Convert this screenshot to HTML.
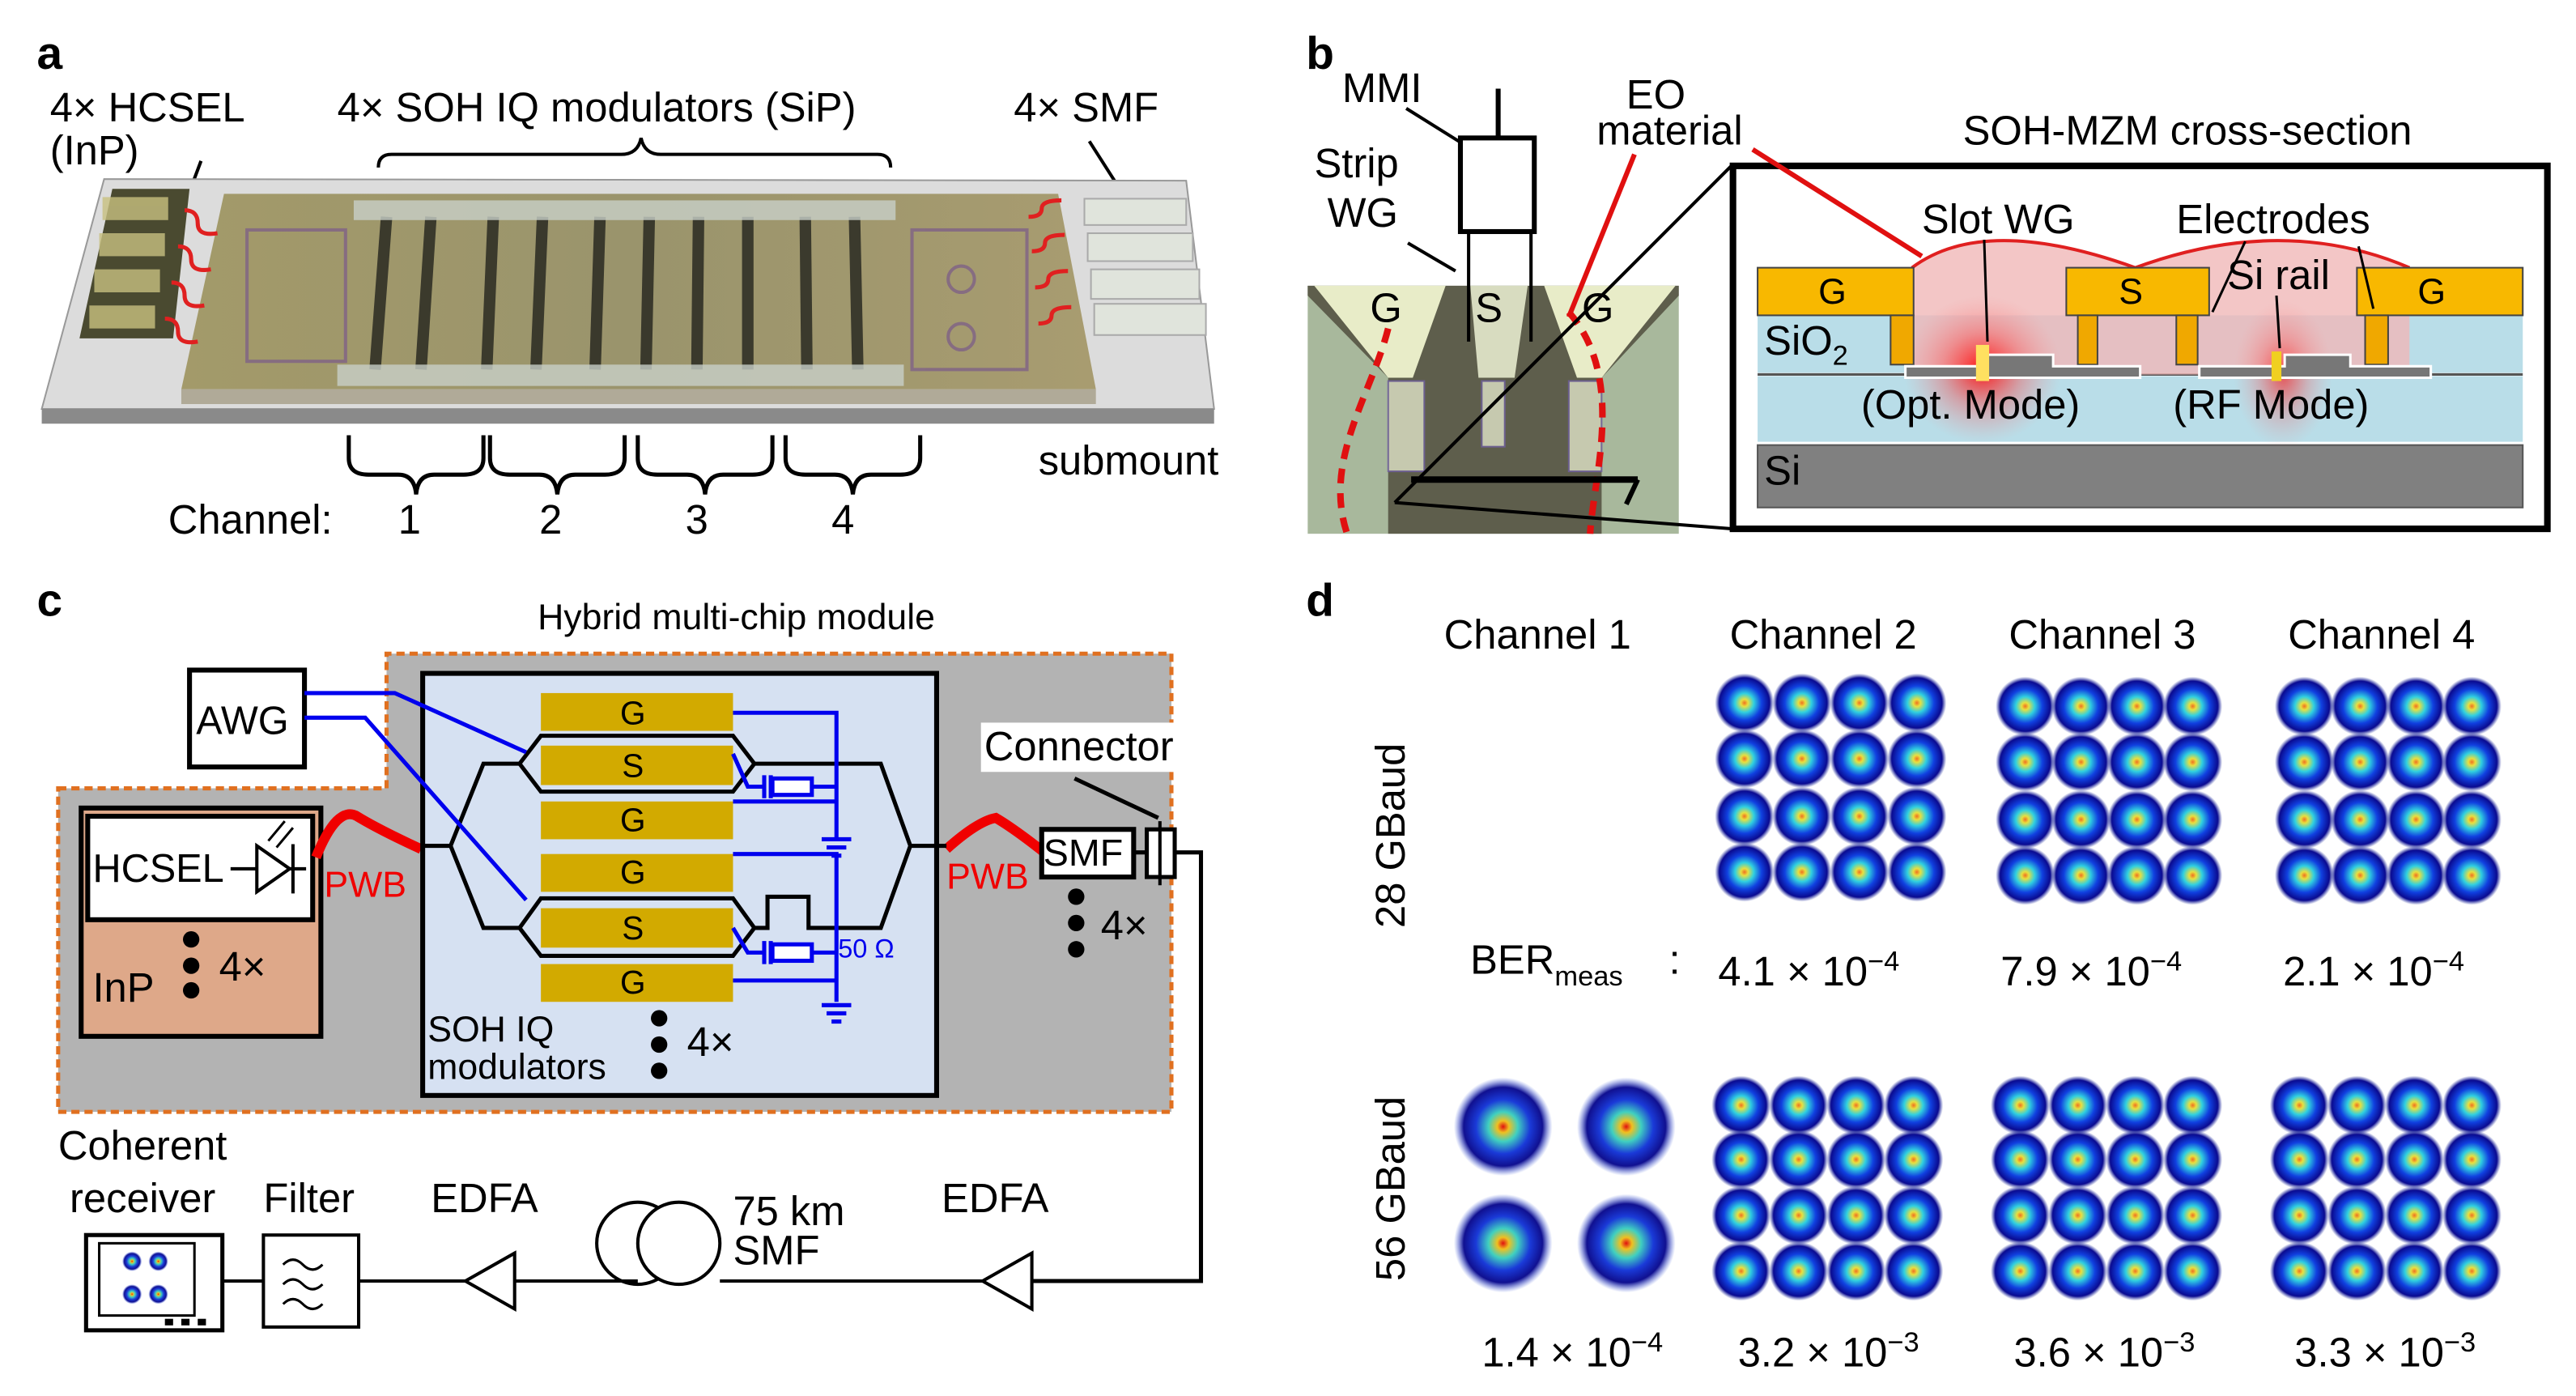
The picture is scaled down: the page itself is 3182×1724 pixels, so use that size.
<!DOCTYPE html>
<html><head><meta charset="utf-8"><style>
html,body{margin:0;padding:0;background:#fff;}
svg{display:block;}
text{font-family:"Liberation Sans",sans-serif;}
</style></head><body>
<svg width="3182" height="1724" viewBox="0 0 1568 850" xmlns="http://www.w3.org/2000/svg">
<defs>
<radialGradient id="blob" cx="50%" cy="50%" r="50%">
<stop offset="0" stop-color="#f07020"/>
<stop offset="0.12" stop-color="#e8e040"/>
<stop offset="0.32" stop-color="#30d0e0"/>
<stop offset="0.58" stop-color="#1040e0"/>
<stop offset="0.85" stop-color="#0a0a90"/>
<stop offset="1" stop-color="#2030a0" stop-opacity="0"/>
</radialGradient>
<radialGradient id="blob2" cx="50%" cy="50%" r="50%">
<stop offset="0" stop-color="#e01010"/>
<stop offset="0.12" stop-color="#f0c020"/>
<stop offset="0.3" stop-color="#40d0c0"/>
<stop offset="0.55" stop-color="#1a3ad8"/>
<stop offset="0.8" stop-color="#101090"/>
<stop offset="1" stop-color="#4060e0" stop-opacity="0"/>
</radialGradient>
<radialGradient id="glow" cx="50%" cy="50%" r="50%">
<stop offset="0" stop-color="#ff0000" stop-opacity="0.9"/>
<stop offset="0.5" stop-color="#ff3030" stop-opacity="0.35"/>
<stop offset="1" stop-color="#ff8080" stop-opacity="0"/>
</radialGradient>
<linearGradient id="chip" x1="0" y1="0" x2="1" y2="0">
<stop offset="0" stop-color="#a39a6a"/><stop offset="0.5" stop-color="#9a946c"/><stop offset="1" stop-color="#a89c70"/>
</linearGradient>
<circle id="b" r="18" fill="url(#blob)"/>
<circle id="c" r="30" fill="url(#blob2)"/>
</defs>

<!-- ===== Panel a ===== -->
<text x="22" y="42" font-size="28" font-weight="bold">a</text>
<text x="30" y="74" font-size="25">4× HCSEL</text>
<text x="30" y="100" font-size="25">(InP)</text>
<text x="205" y="74" font-size="25">4× SOH  IQ modulators (SiP)</text>
<text x="617" y="74" font-size="25">4× SMF</text>
<path d="M230 102 q0 -8 8 -8 h140 q10 0 12 -10 q2 10 12 10 h132 q8 0 8 8" fill="none" stroke="#000" stroke-width="2"/>
<line x1="122" y1="98" x2="110" y2="130" stroke="#000" stroke-width="2"/>
<line x1="663" y1="86" x2="686" y2="122" stroke="#000" stroke-width="2"/>
<polygon points="63,109 722,110 739,249 25,249" fill="#dcdcdc" stroke="#999"/>
<polygon points="25,249 739,249 739,258 25,258" fill="#8a8a8a"/>
<polygon points="136,118 644,118 667,237 110,237" fill="url(#chip)"/>
<polygon points="110,237 667,237 667,246 110,246" fill="#b0aa98"/>
<g stroke="#2a2a22" stroke-width="7" opacity="0.85">
<line x1="235" y1="132" x2="228" y2="225"/><line x1="262" y1="132" x2="256" y2="225"/>
<line x1="300" y1="132" x2="296" y2="225"/><line x1="330" y1="132" x2="326" y2="225"/>
<line x1="365" y1="132" x2="362" y2="225"/><line x1="395" y1="132" x2="393" y2="225"/>
<line x1="425" y1="132" x2="424" y2="225"/><line x1="455" y1="132" x2="455" y2="225"/>
<line x1="490" y1="132" x2="491" y2="225"/><line x1="520" y1="132" x2="522" y2="225"/>
</g>
<rect x="215" y="122" width="330" height="12" fill="#c8d0c8" opacity="0.8"/>
<rect x="205" y="222" width="345" height="13" fill="#c8d0c8" opacity="0.8"/>
<g fill="none" stroke="#7a5a8a" stroke-width="2" opacity="0.7">
<rect x="150" y="140" width="60" height="80"/><rect x="555" y="140" width="70" height="85"/>
<circle cx="585" cy="170" r="8"/><circle cx="585" cy="205" r="8"/>
</g>
<polygon points="68,115 115,115 105,206 48,206" fill="#4a4a30"/>
<g fill="#c8c080" opacity="0.8"><rect x="62" y="120" width="40" height="14"/><rect x="60" y="142" width="40" height="14"/><rect x="57" y="164" width="40" height="14"/><rect x="54" y="186" width="40" height="14"/></g>
<g fill="#e0e4dc" stroke="#aaa"><rect x="660" y="121" width="62" height="16"/><rect x="662" y="142" width="64" height="17"/><rect x="664" y="164" width="66" height="18"/><rect x="666" y="185" width="68" height="19"/></g>
<g fill="none" stroke="#e02020" stroke-width="2.5">
<path d="M112 128 q8 0 8 8 t12 6"/><path d="M108 150 q8 0 8 8 t12 6"/><path d="M104 172 q8 0 8 8 t12 6"/><path d="M100 194 q8 0 8 8 t12 6"/>
<path d="M626 132 q8 0 8 -5 t12 -5"/><path d="M628 153 q8 0 8 -5 t12 -5"/><path d="M630 175 q8 0 8 -5 t12 -5"/><path d="M632 197 q8 0 8 -5 t12 -5"/>
</g>
<g fill="none" stroke="#000" stroke-width="2.5">
<path d="M212 265 v14 q0 10 12 10 h18 q10 0 11 12 q1 -12 11 -12 h18 q12 0 12 -10 v-14"/>
<path d="M298 265 v14 q0 10 12 10 h18 q10 0 11 12 q1 -12 11 -12 h18 q12 0 12 -10 v-14"/>
<path d="M388 265 v14 q0 10 12 10 h18 q10 0 11 12 q1 -12 11 -12 h18 q12 0 12 -10 v-14"/>
<path d="M478 265 v14 q0 10 12 10 h18 q10 0 11 12 q1 -12 11 -12 h18 q12 0 12 -10 v-14"/>
</g>
<text x="102" y="325" font-size="25">Channel:</text>
<text x="242" y="325" font-size="25">1</text><text x="328" y="325" font-size="25">2</text>
<text x="417" y="325" font-size="25">3</text><text x="506" y="325" font-size="25">4</text>
<text x="632" y="289" font-size="25">submount</text>

<!-- ===== Panel b ===== -->
<text x="795" y="42" font-size="28" font-weight="bold">b</text>
<text x="817" y="62" font-size="25">MMI</text>
<text x="800" y="108" font-size="25">Strip</text>
<text x="808" y="138" font-size="25">WG</text>
<text x="990" y="66" font-size="25">EO</text>
<text x="972" y="88" font-size="25">material</text>
<text x="1195" y="88" font-size="25">SOH-MZM cross-section</text>
<rect x="796" y="174" width="226" height="151" fill="#a8b89c"/>
<polygon points="796,174 1022,174 1022,180 975,230 975,325 845,325 845,230 796,180" fill="#5e5e4c"/>
<polygon points="800,174 880,174 860,230 845,230" fill="#e8ecc8"/>
<polygon points="1020,174 940,174 960,230 975,230" fill="#e8ecc8"/>
<polygon points="895,174 930,174 922,230 900,230" fill="#d8dcc0"/>
<g fill="#e0e4c8" stroke="#7060a0" stroke-width="1" opacity="0.8">
<rect x="845" y="232" width="22" height="55"/><rect x="955" y="232" width="20" height="55"/><rect x="902" y="232" width="14" height="40"/>
</g>
<path d="M845 200 C 835 240 805 280 820 325 M955 190 C 990 230 970 290 968 325" fill="none" stroke="#e01010" stroke-width="4" stroke-dasharray="9,6"/>
<text x="834" y="196" font-size="25">G</text><text x="898" y="196" font-size="25">S</text><text x="963" y="196" font-size="25">G</text>
<line x1="912" y1="54" x2="912" y2="84" stroke="#000" stroke-width="3"/>
<rect x="889" y="84" width="45" height="57" fill="none" stroke="#000" stroke-width="3"/>
<line x1="894" y1="141" x2="894" y2="208" stroke="#000" stroke-width="2"/>
<line x1="932" y1="141" x2="932" y2="208" stroke="#000" stroke-width="2"/>
<line x1="856" y1="66" x2="888" y2="86" stroke="#000" stroke-width="2"/>
<line x1="857" y1="148" x2="886" y2="165" stroke="#000" stroke-width="2"/>
<line x1="995" y1="94" x2="955" y2="193" stroke="#e01010" stroke-width="3"/>
<line x1="859" y1="292" x2="997" y2="292" stroke="#000" stroke-width="4"/>
<line x1="997" y1="292" x2="990" y2="307" stroke="#000" stroke-width="3"/>
<line x1="849" y1="306" x2="1055" y2="100" stroke="#000" stroke-width="2"/>
<line x1="849" y1="306" x2="1055" y2="322" stroke="#000" stroke-width="2"/>
<rect x="1055" y="101" width="496" height="221" fill="#fff" stroke="#000" stroke-width="4"/>
<rect x="1070" y="192" width="466" height="35" fill="#b9dde8"/>
<rect x="1070" y="229" width="466" height="40" fill="#b9dde8"/>
<line x1="1070" y1="228" x2="1536" y2="228" stroke="#555" stroke-width="1.5"/>
<rect x="1070" y="271" width="466" height="38" fill="#808080" stroke="#555"/>
<path d="M1164 163 Q1208 130 1300 163 Q1390 130 1467 163 L1467 228 L1164 228 Z" fill="#f0b8b8" opacity="0.8"/>
<path d="M1164 163 Q1208 130 1300 163 Q1390 130 1467 163" fill="none" stroke="#e02020" stroke-width="2"/>
<line x1="1067" y1="91" x2="1170" y2="156" stroke="#e01010" stroke-width="3"/>
<ellipse cx="1207" cy="225" rx="48" ry="45" fill="url(#glow)"/>
<ellipse cx="1390" cy="228" rx="30" ry="45" fill="url(#glow)" opacity="0.7"/>
<rect x="1070" y="163" width="95" height="29" fill="#f8b800" stroke="#444"/>
<rect x="1258" y="163" width="87" height="29" fill="#f8b800" stroke="#444"/>
<rect x="1435" y="163" width="101" height="29" fill="#f8b800" stroke="#444"/>
<g fill="#f0a800" stroke="#444"><rect x="1151" y="192" width="14" height="30"/><rect x="1265" y="192" width="12" height="30"/><rect x="1325" y="192" width="13" height="30"/><rect x="1440" y="192" width="14" height="30"/></g>
<path d="M1160 223 h50 v-7 h40 v7 h53 v7 h-143 z" fill="#777" stroke="#fff" stroke-width="1.5"/>
<path d="M1339 223 h52 v-7 h40 v7 h49 v7 h-141 z" fill="#777" stroke="#fff" stroke-width="1.5"/>
<rect x="1203" y="210" width="8" height="22" fill="#ffe060"/>
<rect x="1383" y="214" width="6" height="18" fill="#f0d020"/>
<text x="1107" y="185" font-size="22">G</text><text x="1290" y="185" font-size="22">S</text><text x="1472" y="185" font-size="22">G</text>
<text x="1074" y="216" font-size="25">SiO<tspan font-size="17" dy="6">2</tspan></text>
<text x="1074" y="295" font-size="25">Si</text>
<text x="1170" y="142" font-size="25">Slot WG</text>
<text x="1325" y="142" font-size="25">Electrodes</text>
<text x="1356" y="176" font-size="25">Si rail</text>
<text x="1133" y="255" font-size="25">(Opt. Mode)</text>
<text x="1323" y="255" font-size="25">(RF Mode)</text>
<g stroke="#000" stroke-width="1.5"><line x1="1208" y1="146" x2="1210" y2="208"/><line x1="1367" y1="147" x2="1347" y2="190"/><line x1="1436" y1="150" x2="1445" y2="188"/><line x1="1386" y1="180" x2="1388" y2="212"/></g>

<!-- ===== Panel c ===== -->
<text x="22" y="375" font-size="28" font-weight="bold">c</text>
<text x="327" y="383" font-size="22">Hybrid multi-chip module</text>
<path d="M35 480 H235 V398 H713 V677 H35 Z" fill="#b3b3b3" stroke="#e07020" stroke-width="2.5" stroke-dasharray="5,3"/>
<rect x="115" y="408" width="70" height="59" fill="#fff" stroke="#000" stroke-width="3"/>
<text x="119" y="447" font-size="24">AWG</text>
<rect x="49" y="492" width="146" height="139" fill="#dea889" stroke="#000" stroke-width="3"/>
<rect x="53" y="497" width="137" height="63" fill="#fff" stroke="#000" stroke-width="3"/>
<text x="56" y="537" font-size="24">HCSEL</text>
<line x1="140" y1="529" x2="186" y2="529" stroke="#000" stroke-width="2"/>
<polygon points="156,515 156,543 176,529" fill="#fff" stroke="#000" stroke-width="2"/>
<line x1="178" y1="514" x2="178" y2="544" stroke="#000" stroke-width="2"/>
<path d="M163 512 l10 -12 M168 516 l10 -12" stroke="#000" stroke-width="1.5"/>
<text x="56" y="610" font-size="25">InP</text>
<circle cx="116" cy="572" r="5"/><circle cx="116" cy="588" r="5"/><circle cx="116" cy="603" r="5"/>
<text x="133" y="597" font-size="25">4×</text>
<path d="M192 522 Q205 490 217 497 Q230 505 256 517" fill="none" stroke="#f00000" stroke-width="6"/>
<path d="M576 517 Q595 500 606 498 Q618 505 638 521" fill="none" stroke="#f00000" stroke-width="6"/>
<text x="197" y="546" font-size="22" fill="#f00000">PWB</text>
<text x="576" y="541" font-size="22" fill="#f00000">PWB</text>
<rect x="257" y="410" width="313" height="257" fill="#d6e1f2" stroke="#000" stroke-width="3"/>
<g fill="#d2aa00"><rect x="329" y="422" width="117" height="23"/><rect x="329" y="454" width="117" height="24"/><rect x="329" y="488" width="117" height="23"/><rect x="329" y="520" width="117" height="23"/><rect x="329" y="553" width="117" height="24"/><rect x="329" y="587" width="117" height="23"/></g>
<g font-size="20" text-anchor="middle"><text x="385" y="441">G</text><text x="385" y="473">S</text><text x="385" y="506">G</text><text x="385" y="538">G</text><text x="385" y="572">S</text><text x="385" y="605">G</text></g>
<g fill="none" stroke="#000" stroke-width="2.5">
<path d="M257 515 H274 L294 465 H316 M274 515 L294 565 H316"/>
<path d="M316 465 L329 448 H446 L459 465 L446 482 H329 Z"/>
<path d="M316 565 L329 547 H446 L459 565 L446 582 H329 Z"/>
<path d="M459 465 H536 L554 515 H576 M459 565 H467 V546 H492 V565 H536 L554 515"/>
</g>
<g fill="none" stroke="#0000ee" stroke-width="2.5">
<path d="M185 422 H240 L320 458"/><path d="M185 437 H222 L320 548"/>
<path d="M446 434 H509 V510 M446 488 H509 M446 520 H509 V610 M446 597 H509"/>
<path d="M446 459 L455 479 H465 M446 565 L455 580 H465"/>
<rect x="470" y="474" width="24" height="10" fill="#fff"/><rect x="470" y="575" width="24" height="10" fill="#fff"/>
<path d="M494 479 H509 M494 580 H509 M465 472 v14 M469 472 v14 M465 573 v14 M469 573 v14"/>
<path d="M500 511 h18 M503 516 h12 M506 521 h6 M500 612 h18 M503 617 h12 M506 622 h6"/>
</g>
<text x="510" y="583" font-size="16" fill="#0000ee">50 Ω</text>
<text x="260" y="634" font-size="22">SOH IQ</text>
<text x="260" y="657" font-size="22">modulators</text>
<circle cx="401" cy="620" r="5"/><circle cx="401" cy="636" r="5"/><circle cx="401" cy="652" r="5"/>
<text x="418" y="643" font-size="25">4×</text>
<rect x="597" y="440" width="122" height="30" fill="#fff"/>
<text x="599" y="463" font-size="25">Connector</text>
<line x1="654" y1="474" x2="705" y2="498" stroke="#000" stroke-width="2.5"/>
<rect x="634" y="505" width="56" height="29" fill="#fff" stroke="#000" stroke-width="3"/>
<text x="635" y="527" font-size="23">SMF</text>
<rect x="698" y="505" width="17" height="29" fill="#fff" stroke="#000" stroke-width="2.5"/>
<line x1="706" y1="500" x2="706" y2="539" stroke="#000" stroke-width="2"/>
<path d="M690 519 H698 M715 519 H731 V780 H628" fill="none" stroke="#000" stroke-width="2.5"/>
<circle cx="655" cy="546" r="5"/><circle cx="655" cy="562" r="5"/><circle cx="655" cy="578" r="5"/>
<text x="670" y="572" font-size="25">4×</text>
<polygon points="628,763 628,797 598,780" fill="#fff" stroke="#000" stroke-width="2"/>
<line x1="438" y1="780" x2="598" y2="780" stroke="#000" stroke-width="2"/>
<circle cx="388" cy="757" r="25" fill="#fff" stroke="#000" stroke-width="2"/>
<circle cx="413" cy="757" r="25" fill="#fff" stroke="#000" stroke-width="2"/>
<line x1="313" y1="780" x2="388" y2="780" stroke="#000" stroke-width="2"/>
<polygon points="313,763 313,797 283,780" fill="#fff" stroke="#000" stroke-width="2"/>
<line x1="218" y1="780" x2="283" y2="780" stroke="#000" stroke-width="2"/>
<rect x="160" y="752" width="58" height="56" fill="#fff" stroke="#000" stroke-width="2"/>
<path d="M172 770 q6 -6 12 0 t12 0 M172 782 q6 -6 12 0 t12 0 M172 794 q6 -6 12 0 t12 0" fill="none" stroke="#000" stroke-width="1.5"/>
<line x1="135" y1="780" x2="160" y2="780" stroke="#000" stroke-width="2"/>
<rect x="52" y="752" width="83" height="58" fill="#fff" stroke="#000" stroke-width="2.5"/>
<rect x="60" y="757" width="58" height="44" fill="#fff" stroke="#000" stroke-width="1.5"/>
<circle cx="80" cy="768" r="6" fill="url(#blob2)"/><circle cx="96" cy="768" r="6" fill="url(#blob2)"/><circle cx="80" cy="788" r="6" fill="url(#blob2)"/><circle cx="96" cy="788" r="6" fill="url(#blob2)"/>
<rect x="100" y="803" width="5" height="4"/><rect x="110" y="803" width="5" height="4"/><rect x="120" y="803" width="5" height="4"/>
<text x="35" y="706" font-size="25">Coherent</text>
<text x="42" y="738" font-size="25">receiver</text>
<text x="160" y="738" font-size="25">Filter</text>
<text x="262" y="738" font-size="25">EDFA</text>
<text x="446" y="746" font-size="25">75 km</text>
<text x="446" y="770" font-size="25">SMF</text>
<text x="573" y="738" font-size="25">EDFA</text>

<!-- ===== Panel d ===== -->
<text x="795" y="375" font-size="28" font-weight="bold">d</text>
<text x="879" y="395" font-size="25">Channel 1</text>
<text x="1053" y="395" font-size="25">Channel 2</text>
<text x="1223" y="395" font-size="25">Channel 3</text>
<text x="1393" y="395" font-size="25">Channel 4</text>
<text transform="translate(855,565) rotate(-90)" font-size="25">28 GBaud</text>
<text transform="translate(855,780) rotate(-90)" font-size="25">56 GBaud</text>
<text x="895" y="593" font-size="25">BER<tspan font-size="17" dy="7">meas</tspan></text>
<text x="1016" y="593" font-size="25">:</text>
<text x="1046" y="600" font-size="25">4.1 × 10<tspan font-size="17" dy="-9">−4</tspan></text>
<text x="1218" y="600" font-size="25">7.9 × 10<tspan font-size="17" dy="-9">−4</tspan></text>
<text x="1390" y="600" font-size="25">2.1 × 10<tspan font-size="17" dy="-9">−4</tspan></text>
<text x="902" y="832" font-size="25">1.4 × 10<tspan font-size="17" dy="-9">−4</tspan></text>
<text x="1058" y="832" font-size="25">3.2 × 10<tspan font-size="17" dy="-9">−3</tspan></text>
<text x="1226" y="832" font-size="25">3.6 × 10<tspan font-size="17" dy="-9">−3</tspan></text>
<text x="1397" y="832" font-size="25">3.3 × 10<tspan font-size="17" dy="-9">−3</tspan></text>
<g>
<use href="#b" x="1062" y="428"/><use href="#b" x="1097" y="428"/><use href="#b" x="1132" y="428"/><use href="#b" x="1167" y="428"/>
<use href="#b" x="1062" y="462"/><use href="#b" x="1097" y="462"/><use href="#b" x="1132" y="462"/><use href="#b" x="1167" y="462"/>
<use href="#b" x="1062" y="497"/><use href="#b" x="1097" y="497"/><use href="#b" x="1132" y="497"/><use href="#b" x="1167" y="497"/>
<use href="#b" x="1062" y="531"/><use href="#b" x="1097" y="531"/><use href="#b" x="1132" y="531"/><use href="#b" x="1167" y="531"/>
<use href="#b" x="1233" y="430"/><use href="#b" x="1267" y="430"/><use href="#b" x="1301" y="430"/><use href="#b" x="1335" y="430"/>
<use href="#b" x="1233" y="464"/><use href="#b" x="1267" y="464"/><use href="#b" x="1301" y="464"/><use href="#b" x="1335" y="464"/>
<use href="#b" x="1233" y="499"/><use href="#b" x="1267" y="499"/><use href="#b" x="1301" y="499"/><use href="#b" x="1335" y="499"/>
<use href="#b" x="1233" y="533"/><use href="#b" x="1267" y="533"/><use href="#b" x="1301" y="533"/><use href="#b" x="1335" y="533"/>
<use href="#b" x="1403" y="430"/><use href="#b" x="1437" y="430"/><use href="#b" x="1471" y="430"/><use href="#b" x="1505" y="430"/>
<use href="#b" x="1403" y="464"/><use href="#b" x="1437" y="464"/><use href="#b" x="1471" y="464"/><use href="#b" x="1505" y="464"/>
<use href="#b" x="1403" y="499"/><use href="#b" x="1437" y="499"/><use href="#b" x="1471" y="499"/><use href="#b" x="1505" y="499"/>
<use href="#b" x="1403" y="533"/><use href="#b" x="1437" y="533"/><use href="#b" x="1471" y="533"/><use href="#b" x="1505" y="533"/>
<use href="#c" x="915" y="686"/><use href="#c" x="990" y="686"/><use href="#c" x="915" y="757"/><use href="#c" x="990" y="757"/>
<use href="#b" x="1060" y="673"/><use href="#b" x="1095" y="673"/><use href="#b" x="1130" y="673"/><use href="#b" x="1165" y="673"/>
<use href="#b" x="1060" y="706"/><use href="#b" x="1095" y="706"/><use href="#b" x="1130" y="706"/><use href="#b" x="1165" y="706"/>
<use href="#b" x="1060" y="740"/><use href="#b" x="1095" y="740"/><use href="#b" x="1130" y="740"/><use href="#b" x="1165" y="740"/>
<use href="#b" x="1060" y="774"/><use href="#b" x="1095" y="774"/><use href="#b" x="1130" y="774"/><use href="#b" x="1165" y="774"/>
<use href="#b" x="1230" y="673"/><use href="#b" x="1265" y="673"/><use href="#b" x="1300" y="673"/><use href="#b" x="1335" y="673"/>
<use href="#b" x="1230" y="706"/><use href="#b" x="1265" y="706"/><use href="#b" x="1300" y="706"/><use href="#b" x="1335" y="706"/>
<use href="#b" x="1230" y="740"/><use href="#b" x="1265" y="740"/><use href="#b" x="1300" y="740"/><use href="#b" x="1335" y="740"/>
<use href="#b" x="1230" y="774"/><use href="#b" x="1265" y="774"/><use href="#b" x="1300" y="774"/><use href="#b" x="1335" y="774"/>
<use href="#b" x="1400" y="673"/><use href="#b" x="1435" y="673"/><use href="#b" x="1470" y="673"/><use href="#b" x="1505" y="673"/>
<use href="#b" x="1400" y="706"/><use href="#b" x="1435" y="706"/><use href="#b" x="1470" y="706"/><use href="#b" x="1505" y="706"/>
<use href="#b" x="1400" y="740"/><use href="#b" x="1435" y="740"/><use href="#b" x="1470" y="740"/><use href="#b" x="1505" y="740"/>
<use href="#b" x="1400" y="774"/><use href="#b" x="1435" y="774"/><use href="#b" x="1470" y="774"/><use href="#b" x="1505" y="774"/>
</g>
</svg>
</body></html>
